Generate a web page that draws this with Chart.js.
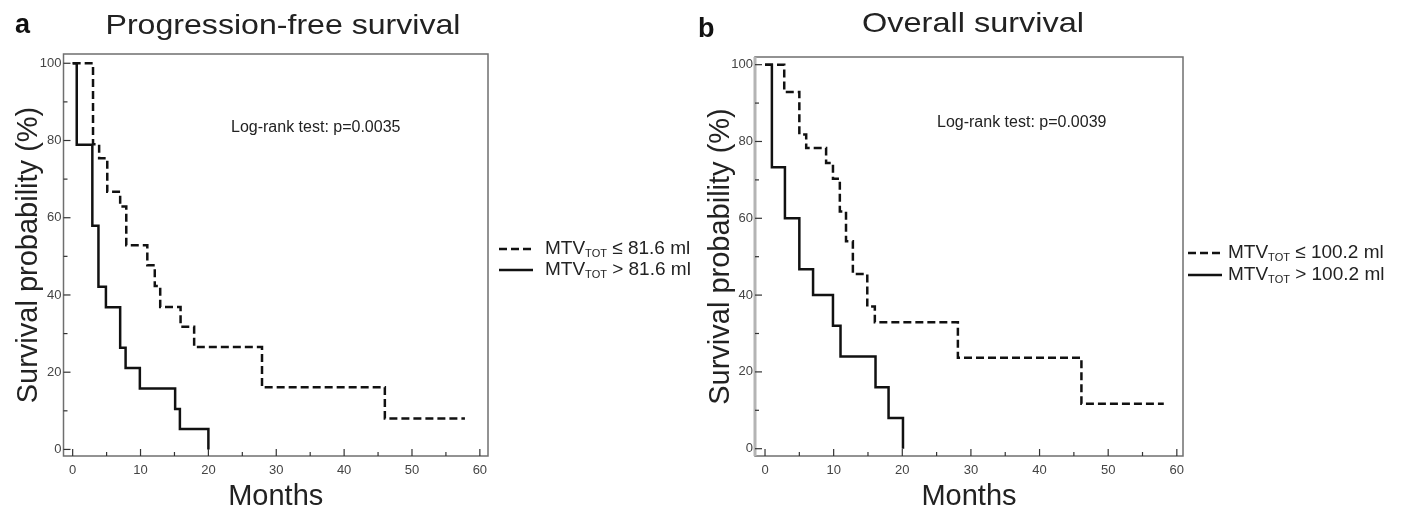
<!DOCTYPE html>
<html>
<head>
<meta charset="utf-8">
<script src="https://cdn.jsdelivr.net/npm/chart.js@4"></script>
<style>
  html, body { margin: 0; padding: 0; background: #fff; }
  body { width: 1401px; height: 517px; position: relative; overflow: hidden; }
  .panel { position: absolute; top: 0; height: 517px; }
</style>
</head>
<body>
<div class="panel" style="left:0;width:700px"><canvas id="pfs"></canvas></div>
<div class="panel" style="left:690px;width:711px"><canvas id="os"></canvas></div>
<script>
// Kaplan-Meier steps: month of each event and survival (%) after it
const pfsLowMonths = [0, 3.0, 3.9, 5.1, 7.0, 7.9, 11.0, 12.1, 12.9, 15.9, 17.9, 27.9, 46.0, 57.8];
const pfsLowSurv = [100, 79.0, 75.4, 66.7, 62.9, 52.9, 47.7, 42.3, 36.9, 31.8, 26.5, 16.1, 8.0, 8.0];
const pfsHighMonths = [0, 0.6, 2.9, 3.8, 4.9, 7.0, 7.8, 9.9, 15.1, 15.8, 20.0];
const pfsHighSurv = [100, 78.9, 57.9, 42.1, 36.8, 26.3, 21.1, 15.8, 10.5, 5.3, 0];

const osLowMonths = [0, 2.8, 5.0, 6.0, 8.9, 9.9, 10.9, 11.8, 12.8, 14.9, 16.0, 28.1, 46.1, 58.1];
const osLowSurv = [100, 92.9, 81.8, 78.3, 74.4, 70.3, 61.8, 54.0, 45.5, 37.0, 32.9, 23.7, 11.7, 11.7];
const osHighMonths = [0, 1.0, 2.9, 5.0, 7.0, 9.9, 11.0, 16.1, 18.0, 20.1];
const osHighSurv = [100, 73.3, 60, 46.7, 40, 32, 24, 16, 8, 0];

const xTicks = [0, 10, 20, 30, 40, 50, 60];
const xMinor = [5, 15, 25, 35, 45, 55];
const yTicks = [0, 20, 40, 60, 80, 100];
const yMinor = [10, 30, 50, 70, 90];

const pfsLegend = ["≤ 81.6 ml", "> 81.6 ml"];
const osLegend = ["≤ 100.2 ml", "> 100.2 ml"];

const FONT = '"Liberation Sans", Arial, Helvetica, sans-serif';
Chart.defaults.font.family = FONT;

const pts = (xs, ys) => xs.map((x, i) => ({ x, y: ys[i] }));

// draw text centred at cx and stretched to a given width
function fitText(ctx, text, cx, baseY, width, size) {
  ctx.font = size + "px " + FONT;
  const w = ctx.measureText(text).width;
  ctx.save();
  ctx.translate(cx, baseY);
  ctx.scale(width / w, 1);
  ctx.textAlign = "center";
  ctx.textBaseline = "alphabetic";
  ctx.fillText(text, 0, 0);
  ctx.restore();
}

const panelDecor = {
  id: "panelDecor",
  afterDraw(chart, args, o) {
    const { ctx, chartArea: a, scales: { x, y } } = chart;
    const seg = (x1, y1, x2, y2) => {
      ctx.beginPath();
      ctx.moveTo(x1, y1);
      ctx.lineTo(x2, y2);
      ctx.stroke();
    };
    ctx.save();

    // frame
    ctx.strokeStyle = "#6f6f6f";
    ctx.lineWidth = 1.5;
    ctx.strokeRect(a.left, a.top, a.right - a.left, a.bottom - a.top);
    if (o.softLeft) {
      ctx.strokeStyle = "#b4b4b4";
      ctx.lineWidth = 3;
      seg(a.left, a.top, a.left, a.bottom);
    }

    // inward tick marks
    ctx.strokeStyle = "#333";
    ctx.lineWidth = 1.2;
    xTicks.forEach((v) => { const px = x.getPixelForValue(v); seg(px, a.bottom, px, a.bottom - 7); });
    xMinor.forEach((v) => { const px = x.getPixelForValue(v); seg(px, a.bottom, px, a.bottom - 4); });
    yTicks.forEach((v) => { const py = y.getPixelForValue(v); seg(a.left, py, a.left + 7, py); });
    yMinor.forEach((v) => { const py = y.getPixelForValue(v); seg(a.left, py, a.left + 4, py); });

    // panel letter + title
    ctx.fillStyle = "#111";
    ctx.font = "bold 27px " + FONT;
    ctx.textAlign = "left";
    ctx.textBaseline = "alphabetic";
    ctx.fillText(o.letter, o.letterX, o.letterY);
    ctx.fillStyle = "#222";
    fitText(ctx, o.title, o.titleX, o.titleY, o.titleW, 28);

    // log-rank note
    ctx.font = "16px " + FONT;
    ctx.textBaseline = "middle";
    ctx.fillText(o.note, o.noteX, o.noteY);

    // legend
    chart.data.datasets.forEach((ds, i) => {
      const ly = o.legendY[i];
      ctx.strokeStyle = "#111";
      ctx.lineWidth = 2.5;
      ctx.setLineDash(ds.borderDash || []);
      seg(o.legendX, ly, o.legendX + 34, ly);
      ctx.setLineDash([]);
      let tx = o.legendX + o.textGap;
      ctx.fillStyle = "#222";
      ctx.textBaseline = "middle";
      ctx.font = "19px " + FONT;
      ctx.fillText("MTV", tx, ly);
      tx += ctx.measureText("MTV").width;
      ctx.font = "11px " + FONT;
      ctx.fillText("TOT", tx, ly + 5);
      tx += ctx.measureText("TOT").width;
      ctx.font = "19px " + FONT;
      ctx.fillText(" " + o.legend[i], tx, ly);
    });
    ctx.restore();
  },
};

function kmChart(id, low, high, box, deco) {
  return new Chart(document.getElementById(id), {
    type: "line",
    data: {
      datasets: [
        {
          data: low,
          borderColor: "#111",
          borderWidth: 2.5,
          borderDash: [8, 4],
          stepped: "before",
          pointRadius: 0,
          fill: false,
        },
        {
          data: high,
          borderColor: "#111",
          borderWidth: 2.5,
          stepped: "before",
          pointRadius: 0,
          fill: false,
        },
      ],
    },
    options: {
      responsive: true,
      maintainAspectRatio: false,
      animation: false,
      layout: { padding: { top: box.top, right: box.right, left: 0, bottom: 0 } },
      scales: {
        x: {
          type: "linear",
          min: box.xMin,
          max: box.xMax,
          afterBuildTicks: (s) => { s.ticks = xTicks.map((value) => ({ value })); },
          afterFit: (s) => { s.height = 61; },
          grid: { display: false, drawTicks: false },
          border: { display: false },
          ticks: { padding: 7, color: "#444", font: { size: 13 }, maxRotation: 0, autoSkip: false },
          title: { display: true, text: "Months", color: "#222", font: { size: 29 }, padding: { top: 0, bottom: 3 } },
        },
        y: {
          type: "linear",
          min: box.yMin,
          max: box.yMax,
          afterBuildTicks: (s) => { s.ticks = yTicks.map((value) => ({ value })); },
          afterFit: (s) => { s.width = box.left; },
          grid: { display: false, drawTicks: false },
          border: { display: false },
          ticks: { padding: 2, color: "#444", font: { size: 13 }, autoSkip: false },
          title: { display: true, text: "Survival probability (%)", color: "#222", font: { size: 29 }, padding: { top: box.yTitlePad, bottom: 0 } },
        },
      },
      plugins: {
        legend: { display: false },
        tooltip: { enabled: false },
        panelDecor: deco,
      },
    },
    plugins: [panelDecor],
  });
}

kmChart(
  "pfs",
  pts(pfsLowMonths, pfsLowSurv),
  pts(pfsHighMonths, pfsHighSurv),
  { top: 54, right: 212, left: 63.5, xMin: -1.35, xMax: 61.2, yMin: -1.7, yMax: 102.4, yTitlePad: 12 },
  {
    letter: "a", letterX: 15, letterY: 33,
    title: "Progression-free survival", titleX: 283, titleY: 34, titleW: 355,
    note: "Log-rank test: p=0.0035", noteX: 231, noteY: 128,
    legend: pfsLegend, legendX: 499, legendY: [249, 270], textGap: 46,
  }
);

kmChart(
  "os",
  pts(osLowMonths, osLowSurv),
  pts(osHighMonths, osHighSurv),
  { top: 57, right: 218, left: 65, xMin: -1.46, xMax: 60.9, yMin: -1.9, yMax: 102, yTitlePad: 14 },
  {
    letter: "b", letterX: 8, letterY: 37, softLeft: true,
    title: "Overall survival", titleX: 283, titleY: 32, titleW: 222,
    note: "Log-rank test: p=0.0039", noteX: 247, noteY: 123,
    legend: osLegend, legendX: 498, legendY: [253, 275], textGap: 40,
  }
);
</script>
</body>
</html>
